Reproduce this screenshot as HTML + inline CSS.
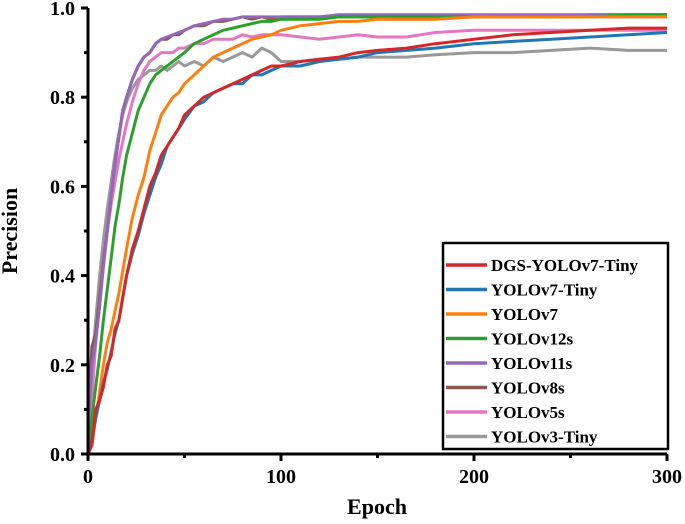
<!DOCTYPE html>
<html><head><meta charset="utf-8"><style>
body{margin:0;background:#fff;}
svg text{font-family:"Liberation Serif",serif;font-weight:bold;}
</style></head><body>
<svg id="chart" width="685" height="519"></svg>
<script>
const epochs=[0,2,4,6,8,10,12,14,16,18,20,23,26,29,32,35,38,41,44,47,50,55,60,65,70,75,80,85,90,95,100,110,120,130,140,150,165,180,200,220,240,260,280,300];
const sDGS=[0,0.02,0.1,0.12,0.15,0.2,0.22,0.28,0.3,0.35,0.4,0.46,0.5,0.55,0.6,0.63,0.67,0.69,0.71,0.73,0.76,0.78,0.8,0.81,0.82,0.83,0.84,0.85,0.86,0.87,0.87,0.88,0.885,0.89,0.9,0.905,0.91,0.92,0.93,0.94,0.945,0.95,0.955,0.955];
const sV7T=[0,0.03,0.08,0.12,0.16,0.19,0.23,0.27,0.3,0.35,0.4,0.45,0.49,0.54,0.58,0.62,0.65,0.69,0.71,0.73,0.75,0.78,0.79,0.81,0.82,0.83,0.83,0.85,0.85,0.86,0.87,0.87,0.88,0.885,0.89,0.9,0.905,0.91,0.92,0.925,0.93,0.935,0.94,0.945];
const sV7=[0,0.02,0.08,0.14,0.2,0.25,0.28,0.32,0.36,0.41,0.46,0.53,0.58,0.62,0.68,0.72,0.76,0.78,0.8,0.81,0.83,0.85,0.87,0.89,0.9,0.91,0.92,0.93,0.935,0.94,0.95,0.96,0.965,0.97,0.97,0.975,0.975,0.975,0.98,0.98,0.98,0.98,0.98,0.98];
const sV12=[0,0.08,0.15,0.22,0.3,0.37,0.44,0.51,0.56,0.62,0.67,0.72,0.77,0.8,0.83,0.85,0.86,0.87,0.88,0.89,0.9,0.92,0.93,0.94,0.95,0.955,0.96,0.965,0.97,0.97,0.975,0.975,0.975,0.98,0.98,0.98,0.98,0.98,0.98,0.98,0.98,0.98,0.985,0.985];
const sV11=[0.05,0.2,0.25,0.33,0.42,0.5,0.58,0.65,0.71,0.77,0.8,0.84,0.87,0.89,0.9,0.92,0.93,0.935,0.94,0.945,0.95,0.96,0.965,0.97,0.975,0.975,0.98,0.98,0.98,0.98,0.98,0.98,0.98,0.985,0.985,0.985,0.985,0.985,0.985,0.985,0.985,0.985,0.985,0.985];
const sV8=[0.05,0.24,0.27,0.35,0.43,0.5,0.58,0.65,0.71,0.77,0.8,0.84,0.87,0.89,0.9,0.92,0.93,0.93,0.94,0.94,0.95,0.96,0.96,0.97,0.97,0.975,0.98,0.975,0.98,0.975,0.98,0.98,0.98,0.98,0.98,0.98,0.98,0.98,0.98,0.98,0.98,0.985,0.985,0.985];
const sV5=[0.03,0.12,0.25,0.35,0.43,0.5,0.56,0.61,0.66,0.7,0.74,0.79,0.83,0.86,0.88,0.89,0.9,0.9,0.9,0.91,0.91,0.92,0.92,0.93,0.93,0.93,0.94,0.935,0.94,0.94,0.94,0.935,0.93,0.935,0.94,0.935,0.935,0.945,0.95,0.95,0.95,0.95,0.95,0.95];
const sV3=[0.1,0.2,0.3,0.4,0.48,0.55,0.61,0.67,0.72,0.76,0.79,0.82,0.84,0.85,0.86,0.86,0.87,0.86,0.87,0.88,0.87,0.88,0.87,0.89,0.88,0.89,0.9,0.89,0.91,0.9,0.88,0.88,0.885,0.885,0.89,0.89,0.89,0.895,0.9,0.9,0.905,0.91,0.905,0.905];
const names=["DGS-YOLOv7-Tiny","YOLOv7-Tiny","YOLOv7","YOLOv12s","YOLOv11s","YOLOv8s","YOLOv5s","YOLOv3-Tiny"];
const colors=["#d62728","#1f77b4","#ff7f0e","#2ca02c","#9467bd","#8c564b","#e377c2","#999999"];
const series=[sDGS,sV7T,sV7,sV12,sV11,sV8,sV5,sV3];
const xTicks=[0,100,200,300];
const yTicks=[0,0.2,0.4,0.6,0.8,1.0];
const NS="http://www.w3.org/2000/svg";
const svg=document.getElementById('chart');
const X0=88,X1=667,Y0=454,Y1=8;
const sx=v=>X0+(X1-X0)*v/300;
const sy=v=>Y0-(Y0-Y1)*v;
function mk(t,a,p){const e=document.createElementNS(NS,t);for(const k in a)e.setAttribute(k,a[k]);(p||svg).appendChild(e);return e;}
const g=mk('g',{});


for(let i=series.length-1;i>=0;i--){
  const d=series[i].map((v,j)=>(j?'L':'M')+sx(epochs[j]).toFixed(1)+','+sy(v).toFixed(1)).join('');
  const p=mk('path',{d:d,fill:'none',stroke:colors[i],'stroke-width':3,'stroke-linejoin':'round'},g);
  
  
}
const ax=mk('path',{d:`M${X0},${Y1}V${Y0}H${X1}`,fill:'none',stroke:'#000','stroke-width':3});


for(let v=0;v<=300;v+=50){const major=v%100===0;mk('line',{x1:sx(v),x2:sx(v),y1:Y0,y2:Y0+(major?7:4),stroke:'#000','stroke-width':3});}
for(let k=0;k<=10;k++){const major=k%2===0;mk('line',{x1:X0,x2:X0-(major?7:4),y1:sy(k/10),y2:sy(k/10),stroke:'#000','stroke-width':3});}
xTicks.forEach(v=>{const t=mk('text',{x:sx(v),y:483,'text-anchor':'middle','font-size':20});t.textContent=v;

});
yTicks.forEach(v=>{const t=mk('text',{x:75,y:sy(v)+7,'text-anchor':'end','font-size':20});t.textContent=v.toFixed(1);

});
const xt=mk('text',{x:377,y:514,'text-anchor':'middle','font-size':22});xt.textContent='Epoch';


const yt=mk('text',{x:17,y:231,'text-anchor':'middle','font-size':22,transform:'rotate(-90 17 231)'});yt.textContent='Precision';


const lg=mk('g',{});


mk('rect',{x:443,y:243,width:225,height:206,fill:'#fff',stroke:'#000','stroke-width':2.5},lg);
names.forEach((n,i)=>{const y=265+i*24.5;
  const e=mk('g',{},lg);
  
  
  mk('line',{x1:446,x2:487,y1:y,y2:y,stroke:colors[i],'stroke-width':3.5},e);
  const t=mk('text',{x:491,y:y+6,'font-size':17},e);t.textContent=n;});
</script>
</body></html>
